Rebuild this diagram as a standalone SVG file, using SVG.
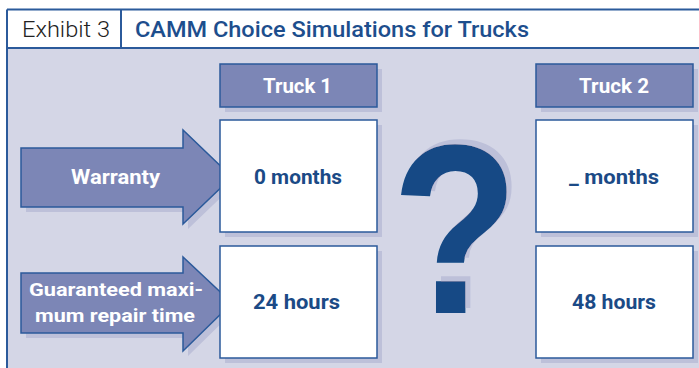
<svg xmlns="http://www.w3.org/2000/svg" width="699" height="368" viewBox="0 0 699 368">
<defs>
<filter id="qshadow" x="-20%" y="-20%" width="140%" height="140%">
<feFlood flood-color="#BDC0D9" result="c"/>
<feComposite in="c" in2="SourceAlpha" operator="in" result="s"/>
<feOffset in="s" dx="5" dy="-5" result="o"/>
<feMerge><feMergeNode in="o"/><feMergeNode in="SourceGraphic"/></feMerge>
</filter>
</defs>
<style>
.frame{stroke:#2B5A9B;stroke-width:2;fill:none}
.lbl{fill:#7C86B6;stroke:#2B5A9B;stroke-width:1.5}
.box{fill:#FFFFFF;stroke:#2B5A9B;stroke-width:1.5}
.shadow{fill:#BDC0D9}
.wt{font-family:Roboto,"Liberation Sans",sans-serif;font-weight:700;fill:#FFFFFF;text-anchor:middle}
.bt{font-family:Roboto,"Liberation Sans",sans-serif;font-weight:700;fill:#1B4A86;text-anchor:middle;font-size:21px}
</style>
<rect x="0" y="0" width="699" height="368" fill="#FFFFFF"/>
<g id="header">
<rect x="7" y="48" width="692" height="320" fill="#D4D6E6"/>
<line x1="7" y1="9.5" x2="699" y2="9.5" class="frame"/>
<line x1="7" y1="48" x2="699" y2="48" class="frame"/>
<line x1="7" y1="9.5" x2="7" y2="368" class="frame"/>
<line x1="121" y1="9.5" x2="121" y2="48" class="frame" stroke-width="1.5"/>
<text x="22" y="36.5" font-family="Roboto,'Liberation Sans',sans-serif" font-weight="300" font-size="22" fill="#222222" textLength="88" lengthAdjust="spacingAndGlyphs">Exhibit 3</text>
<text x="135" y="36.5" font-family="Roboto,'Liberation Sans',sans-serif" font-weight="500" font-size="22" fill="#1D4E8D" textLength="394" lengthAdjust="spacingAndGlyphs">CAMM Choice Simulations for Trucks</text>
</g>
<g id="truck1">
<rect x="225" y="69" width="157" height="43" class="shadow"/>
<rect x="220" y="64" width="157" height="43" class="lbl"/>
<text x="297.5" y="92.5" class="wt" font-size="21" textLength="69" lengthAdjust="spacingAndGlyphs">Truck 1</text>
</g>
<g id="truck2">
<rect x="541" y="69" width="157" height="43" class="shadow"/>
<rect x="536" y="64" width="157" height="43" class="lbl"/>
<text x="614" y="92.5" class="wt" font-size="21" textLength="70" lengthAdjust="spacingAndGlyphs">Truck 2</text>
</g>
<g id="warranty">
<polygon points="26,153 188,153 188,135 237,182 188,229 188,212 26,212" class="shadow"/>
<polygon points="21,148 183,148 183,130 232,177 183,224 183,207 21,207" class="lbl"/>
<text x="115.5" y="184" class="wt" font-size="21" textLength="89" lengthAdjust="spacingAndGlyphs">Warranty</text>
</g>
<g id="repair">
<polygon points="26,278 188,278 188,262 237,308 188,356 188,338 26,338" class="shadow"/>
<polygon points="21,273 183,273 183,257 232,303 183,351 183,333 21,333" class="lbl"/>
<text x="116" y="296" class="wt" font-size="19" textLength="174" lengthAdjust="spacingAndGlyphs">Guaranteed maxi-</text>
<text x="115" y="321.5" class="wt" font-size="19" textLength="160" lengthAdjust="spacingAndGlyphs">mum repair time</text>
</g>
<g id="t1-warranty">
<rect x="225" y="125" width="157" height="112" class="shadow"/>
<rect x="220" y="120" width="157" height="112" class="box"/>
<text x="298" y="184" class="bt" textLength="88" lengthAdjust="spacingAndGlyphs">0 months</text>
</g>
<g id="t1-repair">
<rect x="225" y="251" width="157" height="112" class="shadow"/>
<rect x="220" y="246" width="157" height="112" class="box"/>
<text x="296.5" y="308.5" class="bt" textLength="87" lengthAdjust="spacingAndGlyphs">24 hours</text>
</g>
<g id="t2-warranty">
<rect x="541" y="125" width="157" height="112" class="shadow"/>
<rect x="536" y="120" width="157" height="112" class="box"/>
<text x="614" y="184" class="bt" textLength="90" lengthAdjust="spacingAndGlyphs">_ months</text>
</g>
<g id="t2-repair">
<rect x="541" y="251" width="157" height="112" class="shadow"/>
<rect x="536" y="246" width="157" height="112" class="box"/>
<text x="614" y="308.5" class="bt" textLength="84" lengthAdjust="spacingAndGlyphs">48 hours</text>
</g>
<g id="question" filter="url(#qshadow)">
<text transform="translate(455,313) scale(0.86,1)" x="0" y="0" font-family="'Liberation Sans',Arial,sans-serif" font-weight="700" font-size="242" fill="#134A85" text-anchor="middle">?</text>
</g>
<g id="connectors"></g>
</svg>
